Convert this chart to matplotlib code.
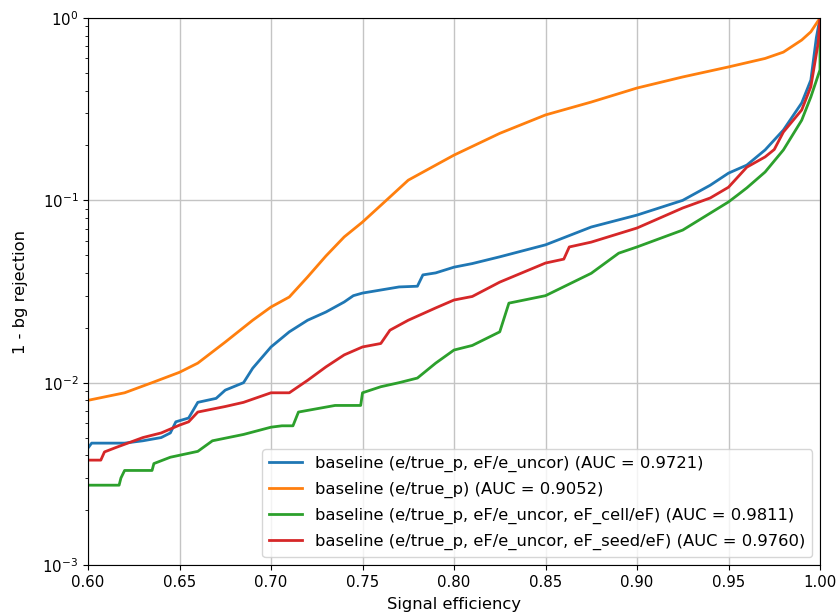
import matplotlib
matplotlib.use("Agg")
import matplotlib.pyplot as plt

plt.rcParams['font.size'] = 10.8

# ROC curves: signal efficiency vs. 1 - background rejection
eff_blue = [0.600, 0.602, 0.620, 0.630, 0.640, 0.645, 0.648, 0.655, 0.660, 0.670, 0.675,
            0.685, 0.690, 0.700, 0.710, 0.720, 0.730, 0.740, 0.745, 0.750, 0.770, 0.780,
            0.783, 0.790, 0.800, 0.810, 0.825, 0.850, 0.875, 0.900, 0.925, 0.940, 0.950,
            0.960, 0.970, 0.980, 0.990, 0.995, 0.998, 1.000]
rej_blue = [0.00438, 0.00466, 0.00466, 0.0048, 0.0050, 0.0053, 0.0061, 0.0064, 0.0078, 0.0082, 0.0091,
            0.0100, 0.0120, 0.0157, 0.0190, 0.0220, 0.0244, 0.0277, 0.0300, 0.0310, 0.0335, 0.0338,
            0.0390, 0.0400, 0.0430, 0.0450, 0.0490, 0.0570, 0.0714, 0.0830, 0.1000, 0.1210, 0.1410,
            0.1560, 0.1890, 0.2430, 0.3420, 0.4570, 0.7800, 1.0000]

eff_orange = [0.600, 0.620, 0.635, 0.650, 0.660, 0.675, 0.690, 0.700, 0.710, 0.720, 0.730,
              0.740, 0.750, 0.763, 0.775, 0.792, 0.800, 0.825, 0.850, 0.875, 0.900, 0.925,
              0.950, 0.970, 0.980, 0.990, 0.995, 1.000]
rej_orange = [0.0080, 0.0088, 0.0100, 0.0114, 0.0128, 0.0167, 0.0220, 0.0260, 0.0295, 0.0380, 0.0495,
              0.0630, 0.0760, 0.1000, 0.1290, 0.1600, 0.1770, 0.2330, 0.2940, 0.3460, 0.4130, 0.4750,
              0.5390, 0.6000, 0.6500, 0.7570, 0.8400, 1.0000]

eff_green = [0.600, 0.617, 0.618, 0.620, 0.635, 0.636, 0.645, 0.660, 0.668, 0.685, 0.700,
             0.706, 0.712, 0.715, 0.735, 0.749, 0.750, 0.760, 0.770, 0.780, 0.790, 0.800,
             0.810, 0.825, 0.830, 0.850, 0.875, 0.890, 0.900, 0.925, 0.950, 0.955, 0.960,
             0.970, 0.980, 0.990, 0.995, 1.000, 1.000]
rej_green = [0.00274, 0.00274, 0.0030, 0.0033, 0.0033, 0.0036, 0.0039, 0.0042, 0.0048, 0.0052, 0.0057,
             0.0058, 0.0058, 0.0069, 0.0075, 0.0075, 0.0088, 0.0095, 0.0100, 0.0106, 0.0128, 0.0151,
             0.0160, 0.0190, 0.0273, 0.0300, 0.0398, 0.0513, 0.0555, 0.0687, 0.0980, 0.1070, 0.1170,
             0.1430, 0.1890, 0.2750, 0.3690, 0.5200, 1.0000]

eff_red = [0.600, 0.607, 0.609, 0.615, 0.630, 0.640, 0.650, 0.655, 0.660, 0.675, 0.685,
           0.700, 0.710, 0.720, 0.730, 0.740, 0.750, 0.760, 0.765, 0.775, 0.790, 0.800,
           0.810, 0.825, 0.850, 0.860, 0.863, 0.875, 0.900, 0.925, 0.940, 0.950, 0.960,
           0.970, 0.975, 0.980, 0.990, 0.995, 0.999, 1.000]
rej_red = [0.00376, 0.00376, 0.00417, 0.0044, 0.0050, 0.0053, 0.00585, 0.0061, 0.0069, 0.0074, 0.0078,
           0.0088, 0.0088, 0.0103, 0.0122, 0.0142, 0.0157, 0.0164, 0.0194, 0.0220, 0.0257, 0.0284,
           0.0297, 0.0356, 0.0453, 0.0476, 0.0555, 0.0590, 0.0705, 0.0908, 0.1030, 0.1180, 0.1520,
           0.1730, 0.1900, 0.2370, 0.3130, 0.4200, 0.7300, 1.0000]

labels = [
    "baseline (e/true_p, eF/e_uncor) (AUC = 0.9721)",
    "baseline (e/true_p) (AUC = 0.9052)",
    "baseline (e/true_p, eF/e_uncor, eF_cell/eF) (AUC = 0.9811)",
    "baseline (e/true_p, eF/e_uncor, eF_seed/eF) (AUC = 0.9760)",
]

fig = plt.figure(figsize=(8.36, 6.13), dpi=100)
ax = fig.add_axes([88 / 836, 48 / 613, 732 / 836, 547 / 613])

lw = 2.0
ax.plot(eff_blue, rej_blue, color="C0", lw=lw, label=labels[0])
ax.plot(eff_orange, rej_orange, color="C1", lw=lw, label=labels[1])
ax.plot(eff_green, rej_green, color="C2", lw=lw, label=labels[2])
ax.plot(eff_red, rej_red, color="C3", lw=lw, label=labels[3])

ax.set_yscale("log")
ax.set_xlim(0.6, 1.0)
ax.set_ylim(1e-3, 1.0)
ax.set_xticks([0.60, 0.65, 0.70, 0.75, 0.80, 0.85, 0.90, 0.95, 1.00])
ax.grid(True, which="major", color="#c4c4c4", lw=1.0)
ax.set_xlabel("Signal efficiency", fontsize=11.8, labelpad=5)
ax.set_ylabel("1 - bg rejection", fontsize=11.8, labelpad=10)
ax.legend(loc="lower right", fontsize=11.8, labelspacing=0.6)

fig.savefig("out.png", dpi=100)
